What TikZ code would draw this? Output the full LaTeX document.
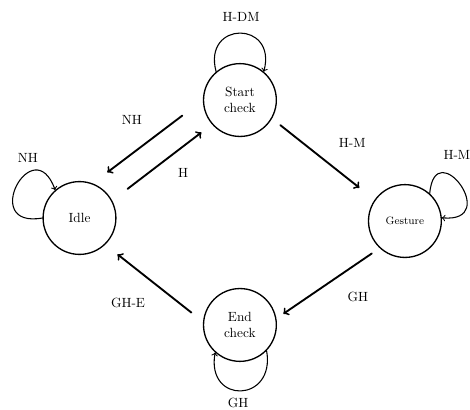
\documentclass[tikz,border=0pt]{standalone}
\begin{document}
\begin{tikzpicture}[font=\normalsize, line join=round, line cap=round, >=to,
	state/.style={circle, draw, line width=1pt, minimum size=1.92cm, inner sep=0pt, align=center},
	trans/.style={->, line width=1.4pt},
	selfloop/.style={->, line width=0.8pt}]
	\useasboundingbox (-2.096,-5.062) rectangle (10.296,5.748);
	\node[state] (idle) at (0,0) {Idle};
	\node[state] (start) at (4.23,3.11) {Start\\check};
	\node[state, font=\footnotesize] (gesture) at (8.58,-0.08) {Gesture};
	\node[state] (end) at (4.23,-2.82) {End\\check};
	% transitions
	\draw[trans, shorten <=0.68cm, shorten >=0.48cm] (start.180)--(idle.69);
	\draw[trans, shorten <=0.51cm, shorten >=0.35cm] (idle.28)--(start.-139);
	\draw[trans, shorten <=0.28cm, shorten >=0.51cm] (start.-30)--(gesture.145);
	\draw[trans, shorten <=0.25cm, shorten >=0.22cm] (gesture.-133)--(end.10);
	\draw[trans, shorten <=0.39cm, shorten >=0.41cm] (end.175)--(idle.-46);
	% self loops
	\draw[selfloop] (start.130) to[out=105, in=75, distance=1.4cm] (start.50);
	\draw[selfloop] (idle.180) to[out=190, in=110, distance=1.7cm] (idle.131);
	\draw[selfloop] (gesture.48) to[out=85, in=-5, distance=1.6cm] (gesture.5);
	\draw[selfloop] (end.-44) to[out=-80, in=-100, distance=1.4cm] (end.-132);
	% labels
	\node (lbstart) at (4.26,5.30) {H-DM};
	\node (lbnh) at (1.38,2.58) {NH};
	\node (lbh) at (2.73,1.19) {H};
	\node (lbidle) at (-1.36,1.58) {NH};
	\node (lbhm) at (7.19,1.98) {H-M};
	\node (lbgesture) at (9.95,1.66) {H-M};
	\node (lbgh) at (7.34,-2.08) {GH};
	\node (lbghe) at (1.28,-2.24) {GH-E};
	\node (lbend) at (4.18,-4.88) {GH};
\end{tikzpicture}
\end{document}
